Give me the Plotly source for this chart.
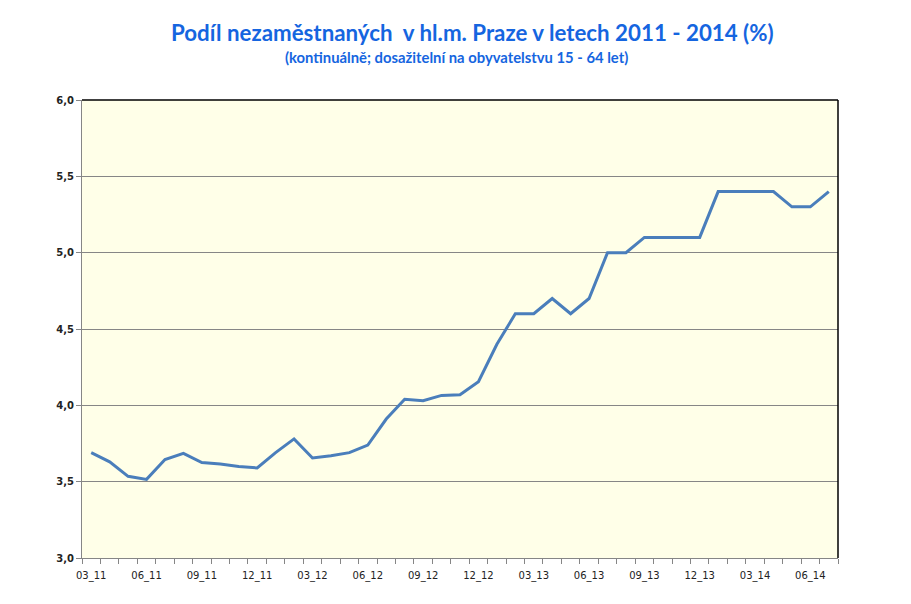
import plotly.graph_objects as go

categories = ["03_11", "04_11", "05_11", "06_11", "07_11", "08_11", "09_11", "10_11", "11_11", "12_11",
              "01_12", "02_12", "03_12", "04_12", "05_12", "06_12", "07_12", "08_12", "09_12", "10_12",
              "11_12", "12_12", "01_13", "02_13", "03_13", "04_13", "05_13", "06_13", "07_13", "08_13",
              "09_13", "10_13", "11_13", "12_13", "01_14", "02_14", "03_14", "04_14", "05_14", "06_14",
              "07_14"]
values = [3.69, 3.63, 3.535, 3.515, 3.645, 3.685, 3.625, 3.615, 3.60, 3.59,
          3.69, 3.78, 3.655, 3.67, 3.69, 3.74, 3.91, 4.04, 4.03, 4.065,
          4.07, 4.155, 4.40, 4.60, 4.60, 4.70, 4.60, 4.70, 5.00, 5.00,
          5.10, 5.10, 5.10, 5.10, 5.40, 5.40, 5.40, 5.40, 5.30, 5.30,
          5.40]
tick_labels = [c if i % 3 == 0 else "" for i, c in enumerate(categories)]
y_ticks = [3.0, 3.5, 4.0, 4.5, 5.0, 5.5, 6.0]

title = "Podíl nezaměstnaných  v hl.m. Praze v letech 2011 - 2014 (%)"
subtitle = "(kontinuálně; dosažitelní na obyvatelstvu 15 - 64 let)"

fig = go.Figure()
fig.add_trace(go.Scatter(x=categories, y=values, mode="lines",
                         line=dict(color="#4A7EBB", width=3), hoverinfo="x+y"))

fig.update_layout(
    width=911, height=604,
    margin=dict(l=82, r=73, t=100, b=46),
    paper_bgcolor="white",
    plot_bgcolor="#FFFFE8",
    showlegend=False,
    separators=",.",
    xaxis=dict(type="category", tickmode="array", tickvals=categories, ticktext=tick_labels,
               tickson="boundaries", ticks="outside", ticklen=5, tickcolor="#868686",
               showline=True, linecolor="#868686", linewidth=1, showgrid=False,
               tickangle=0, ticklabelstandoff=8,
               tickfont=dict(family="DejaVu Sans", size=10, color="#222222"),
               range=[-0.5, len(categories) - 0.5], fixedrange=True),
    yaxis=dict(range=[3.0, 6.0], tickvals=y_ticks, tickformat=".1f",
               ticks="outside", ticklen=5, tickcolor="#868686",
               showline=True, linecolor="#868686", linewidth=1,
               showgrid=True, gridcolor="#868686", gridwidth=1, zeroline=False,
               tickfont=dict(family="DejaVu Sans", size=10, color="#222222", weight="bold"),
               fixedrange=True),
    shapes=[
        dict(type="line", xref="paper", yref="paper", x0=0, x1=1, y0=1, y1=1,
             line=dict(color="black", width=1.5)),
        dict(type="line", xref="paper", yref="paper", x0=1, x1=1, y0=0, y1=1,
             line=dict(color="black", width=1.5)),
    ],
    annotations=[
        dict(text="<b>" + title + "</b>", xref="paper", yref="paper",
             x=(472.5 - 82) / 756, y=1, yshift=68, showarrow=False,
             xanchor="center", yanchor="middle",
             font=dict(family="Lato", size=22.3, color="#1565E0")),
        dict(text="<b>" + subtitle + "</b>", xref="paper", yref="paper",
             x=(456 - 82) / 756, y=1, yshift=43, showarrow=False,
             xanchor="center", yanchor="middle",
             font=dict(family="Lato", size=14.8, color="#1565E0")),
    ],
)

fig.write_html("out.html")
